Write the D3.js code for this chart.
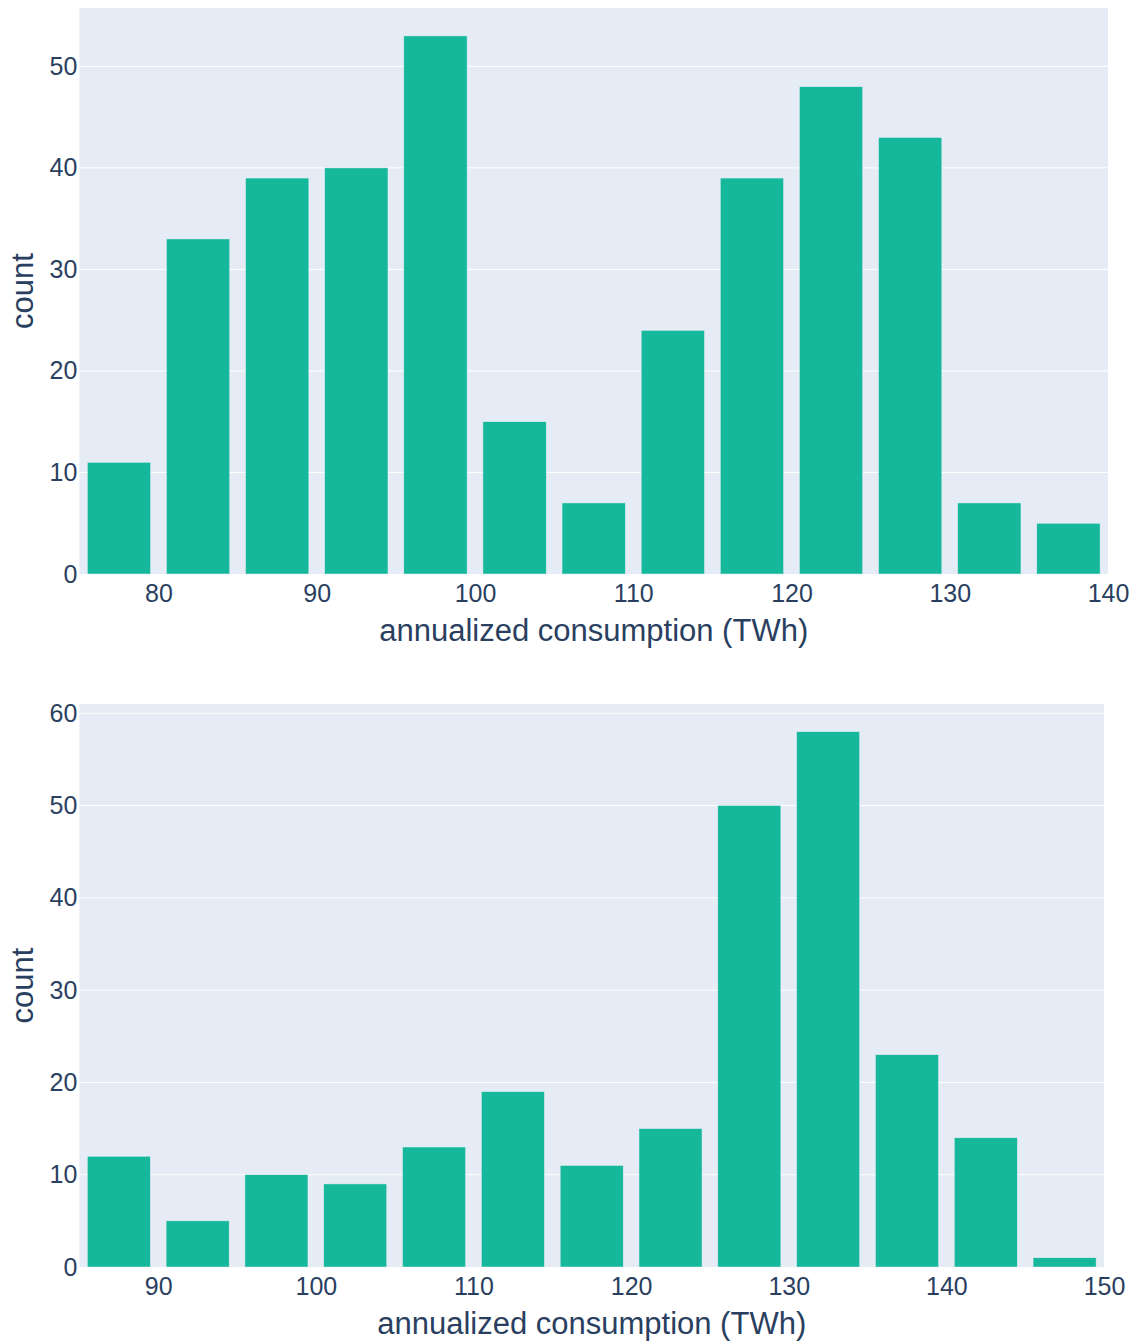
<!DOCTYPE html>
<html lang="en">
<head>
<meta charset="utf-8">
<title>Annualized consumption histograms</title>
<script src="https://cdnjs.cloudflare.com/ajax/libs/d3/7.8.5/d3.min.js"></script>
<style>
  body { margin: 0; background: #fff; }
  text { font-family: "Liberation Sans", Arial, sans-serif; fill: #2a3f5f; }
</style>
</head>
<body>
<div id="chart"></div>
<script>
// bin edges (TWh) and counts for the two histograms
const topBinStarts = [75, 80, 85, 90, 95, 100, 105, 110, 115, 120, 125, 130, 135];
const topCounts = [11, 33, 39, 40, 53, 15, 7, 24, 39, 48, 43, 7, 5];
const topXTicks = [80, 90, 100, 110, 120, 130, 140];
const topYTicks = [0, 10, 20, 30, 40, 50];

const bottomBinStarts = [85, 90, 95, 100, 105, 110, 115, 120, 125, 130, 135, 140, 145];
const bottomCounts = [12, 5, 10, 9, 13, 19, 11, 15, 50, 58, 23, 14, 1];
const bottomXTicks = [90, 100, 110, 120, 130, 140, 150];
const bottomYTicks = [0, 10, 20, 30, 40, 50, 60];

const binSize = 5;
const W = 1134, H = 1343;
const barColor = '#16b89b';
const bg = '#e5ecf6';

const svg = d3.select('#chart').append('svg')
    .attr('width', W)
    .attr('height', H);

function drawHist(starts, counts, xTicks, yTicks, box) {
    const xDomain = [starts[0], starts[starts.length - 1] + binSize];
    const x = d3.scaleLinear().domain(xDomain).range([box.left, box.right]);
    const y = d3.scaleLinear().domain([0, box.yMax]).range([box.bottom, box.top]);

    const g = svg.append('g');

    g.append('rect')
        .attr('x', box.left)
        .attr('y', box.top)
        .attr('width', box.right - box.left)
        .attr('height', box.bottom - box.top)
        .attr('fill', bg);

    // horizontal grid
    g.selectAll('.grid')
        .data(yTicks.filter(d => d > 0))
        .enter()
        .append('line')
        .attr('x1', box.left)
        .attr('x2', box.right)
        .attr('y1', d => y(d))
        .attr('y2', d => y(d))
        .attr('stroke', '#fff')
        .attr('stroke-width', 1);

    const bw = x(starts[0] + binSize) - x(starts[0]);
    const gap = bw * 0.2;
    g.selectAll('.bar')
        .data(counts)
        .enter()
        .append('rect')
        .attr('x', (d, i) => x(starts[i]) + gap / 2)
        .attr('width', bw - gap)
        .attr('y', d => y(d))
        .attr('height', d => y(0) - y(d))
        .attr('fill', barColor)
        .attr('stroke', bg)
        .attr('stroke-width', 0.5);

    const xAxis = d3.axisBottom(x).tickValues(xTicks).tickSize(0).tickPadding(10).tickFormat(d3.format('d'));
    const xg = g.append('g')
        .attr('transform', 'translate(0,' + box.bottom + ')')
        .call(xAxis);
    xg.select('.domain').remove();
    xg.selectAll('text').style('font-size', '25px').attr('fill', '#2a3f5f')
        .style('font-family', '"Liberation Sans", Arial, sans-serif');

    const yAxis = d3.axisLeft(y).tickValues(yTicks).tickSize(0).tickPadding(2).tickFormat(d3.format('d'));
    const yg = g.append('g')
        .attr('transform', 'translate(' + box.left + ',0)')
        .call(yAxis);
    yg.select('.domain').remove();
    yg.selectAll('text').style('font-size', '25px').attr('fill', '#2a3f5f')
        .style('font-family', '"Liberation Sans", Arial, sans-serif');

    g.append('text')
        .attr('x', (box.left + box.right) / 2)
        .attr('y', box.bottom + 67)
        .attr('text-anchor', 'middle')
        .style('font-size', '31px')
        .text('annualized consumption (TWh)');

    g.append('text')
        .attr('transform', 'translate(33,' + (box.top + box.bottom) / 2 + ') rotate(-90)')
        .attr('text-anchor', 'middle')
        .style('font-size', '31px')
        .text('count');
}

drawHist(topBinStarts, topCounts, topXTicks, topYTicks,
    {left: 79.4, right: 1108, top: 8, bottom: 574, yMax: 55.75});
drawHist(bottomBinStarts, bottomCounts, bottomXTicks, bottomYTicks,
    {left: 79.4, right: 1104, top: 704, bottom: 1267, yMax: 61});
</script>
</body>
</html>
